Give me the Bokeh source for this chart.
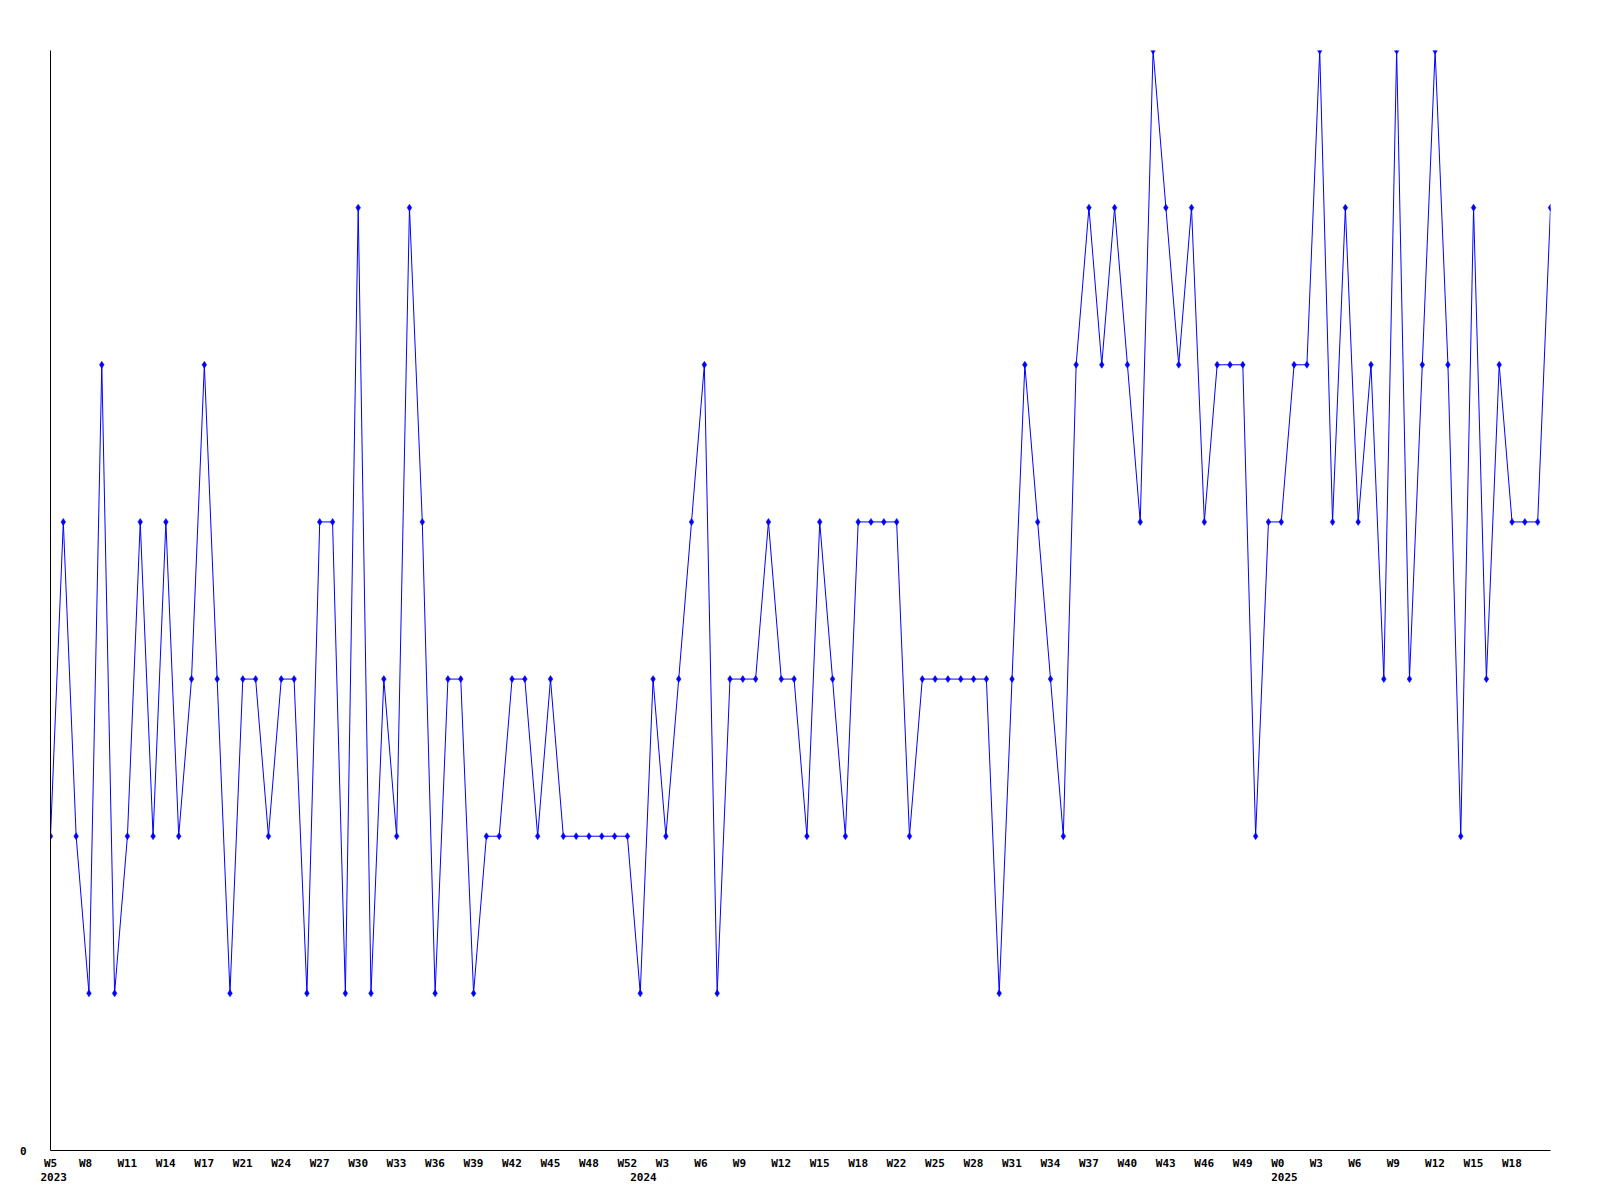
from bokeh.plotting import figure
from bokeh.models import Range1d, FixedTicker, LinearAxis, ColumnDataSource
from bokeh.embed import file_html
from bokeh.resources import INLINE

# weekly values (one per point, 2023 W5 ... 2025)
values = [
    2, 4, 2, 1, 5, 1, 2, 4, 2, 4, 2, 3, 5, 3, 1, 3, 3, 2, 3, 3,
    1, 4, 4, 1, 6, 1, 3, 2, 6, 4, 1, 3, 3, 1, 2, 2, 3, 3, 2, 3,
    2, 2, 2, 2, 2, 2, 1, 3, 2, 3, 4, 5, 1, 3, 3, 3, 4, 3, 3, 2,
    4, 3, 2, 4, 4, 4, 4, 2, 3, 3, 3, 3, 3, 3, 1, 3, 5, 4, 3, 2,
    5, 6, 5, 6, 5, 4, 7, 6, 5, 6, 4, 5, 5, 5, 2, 4, 4, 5, 5, 7,
    4, 6, 4, 5, 3, 7, 3, 5, 7, 5, 2, 6, 3, 5, 4, 4, 4, 6,
]

# week labels shown on every third point
week_labels = [
    "W5", "W8", "W11", "W14", "W17", "W21", "W24", "W27", "W30", "W33",
    "W36", "W39", "W42", "W45", "W48", "W52", "W3", "W6", "W9", "W12",
    "W15", "W18", "W22", "W25", "W28", "W31", "W34", "W37", "W40", "W43",
    "W46", "W49", "W0", "W3", "W6", "W9", "W12", "W15", "W18",
]
label_step = 3

# year labels and the point where each year begins
year_labels = ["2023", "2024", "2025"]
year_start = [0, 46, 96]

idx = list(range(len(values)))
src = ColumnDataSource(data=dict(x=idx, y=values))

FONT = "DejaVu Sans Mono"
FRAME_W = 1500
px_per_unit = FRAME_W / (len(values) - 1)
CHAR_W = 6.6      # px per character of the label font
LEFT_PAD = 10.0   # labels start this many px left of their point


def shift(pos, label):
    # labels in the original are left-anchored slightly before the point
    return max(0.0, pos + (-LEFT_PAD + CHAR_W * len(label) / 2.0) / px_per_unit)


p = figure(
    frame_width=FRAME_W, frame_height=1100,
    min_border_left=50, min_border_top=50, min_border_right=30, min_border_bottom=40,
    x_range=Range1d(0, len(values) - 1), y_range=Range1d(0, 7),
    output_backend="svg", toolbar_location=None,
)
p.outline_line_color = None
p.xgrid.visible = False
p.ygrid.visible = False
p.background_fill_color = "white"
p.border_fill_color = "white"

p.line("x", "y", source=src, line_color="#0000ff", line_width=1)
p.scatter("x", "y", source=src, marker="diamond", size=7,
          fill_color="#0000ff", line_color="#0000ff", line_width=0.5)

tick_pos = [shift(i * label_step, lab) for i, lab in enumerate(week_labels)]

xa = p.xaxis[0]
xa.ticker = FixedTicker(ticks=tick_pos, minor_ticks=[])
xa.major_label_overrides = {t: lab for t, lab in zip(tick_pos, week_labels)}
xa.major_tick_out = 0
xa.major_tick_in = 0
xa.major_tick_line_color = None
xa.minor_tick_line_color = None
xa.axis_line_color = "black"
xa.axis_line_width = 1
xa.major_label_standoff = 6
xa.major_label_text_font = FONT
xa.major_label_text_font_style = "bold"
xa.major_label_text_font_size = "11px"
xa.major_label_text_color = "black"

ya = p.yaxis[0]
ya.ticker = FixedTicker(ticks=[0], minor_ticks=[])
ya.major_tick_out = 0
ya.major_tick_in = 0
ya.major_tick_line_color = None
ya.minor_tick_line_color = None
ya.axis_line_color = "black"
ya.axis_line_width = 1
ya.major_label_standoff = 24
ya.major_label_text_font = FONT
ya.major_label_text_font_style = "bold"
ya.major_label_text_font_size = "11px"
ya.major_label_text_color = "black"

year_pos = [shift(s, lab) for s, lab in zip(year_start, year_labels)]
year_axis = LinearAxis(
    ticker=FixedTicker(ticks=year_pos, minor_ticks=[]),
    major_label_overrides={t: lab for t, lab in zip(year_pos, year_labels)},
)
year_axis.axis_line_color = None
year_axis.major_tick_line_color = None
year_axis.minor_tick_line_color = None
year_axis.major_tick_out = 0
year_axis.major_tick_in = 0
year_axis.major_label_standoff = 0
year_axis.major_label_text_font = FONT
year_axis.major_label_text_font_style = "bold"
year_axis.major_label_text_font_size = "11px"
year_axis.major_label_text_color = "black"
p.add_layout(year_axis, "below")

open("out.html", "w").write(file_html(p, INLINE))
